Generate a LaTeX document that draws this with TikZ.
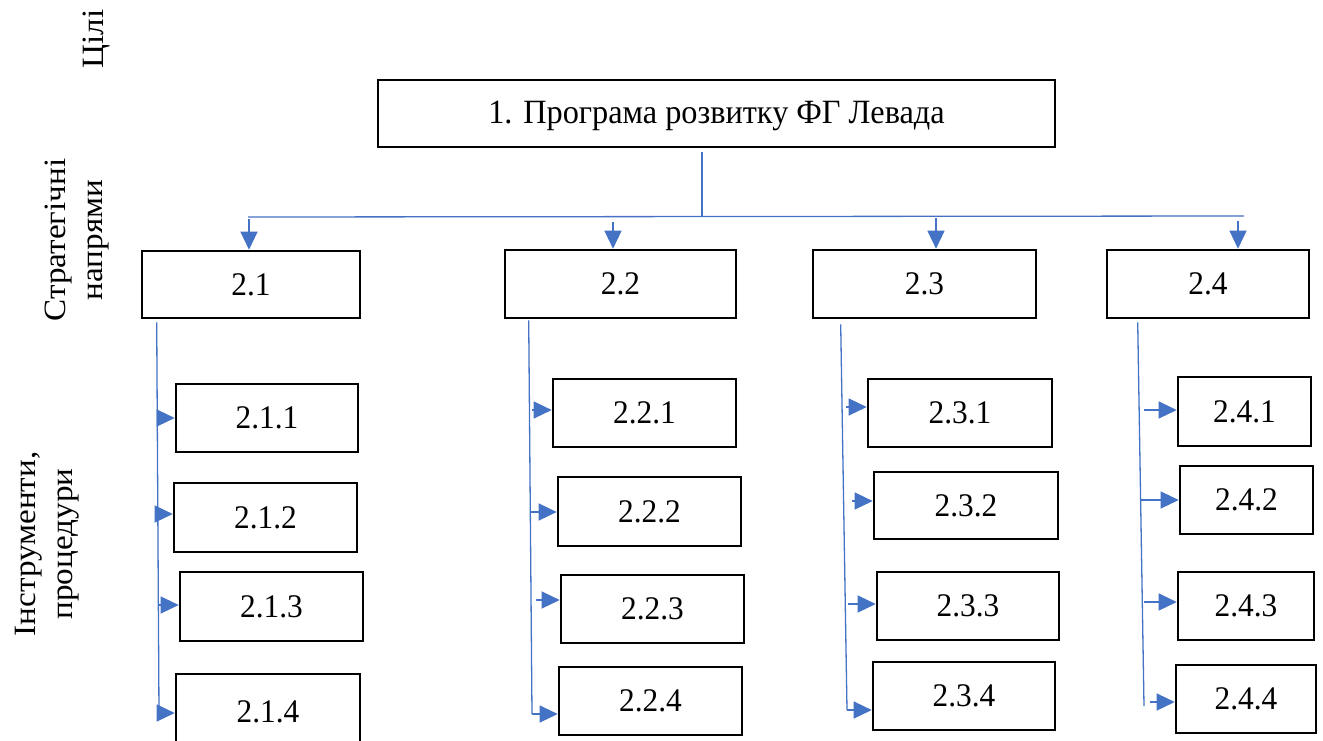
\documentclass[tikz,border=0pt]{standalone}
\usepackage{fontspec}
\setmainfont{Liberation Serif}
\newfontfamily\boxfont[FakeStretch=0.95]{Liberation Serif}
\newfontfamily\sidefont[FakeStretch=1.07]{Liberation Serif}
\usetikzlibrary{arrows.meta}
\definecolor{linkblue}{RGB}{68,114,196}
\tikzset{
  box/.style={draw=black, line width=2.6pt, inner sep=0pt, fill=white,
    font=\boxfont\fontsize{33}{38}\selectfont},
  link/.style={draw=linkblue, line width=1.3pt},
  arr/.style={link, -{Triangle[length=18pt,width=17pt]}},
  side/.style={rotate=90, align=center, inner sep=0pt,
    font=\sidefont\fontsize{31}{37}\selectfont},
}
\begin{document}
\begin{tikzpicture}[x=1pt, y=-1pt]
\clip (0,0) rectangle (1323,740);

% level labels
\node[side] (lgoal) at (97,39) {Цілі};
\node[side] (lstrat) at (77,240) {Стратегічні\\напрями};
\node[side] (ltool) at (47,544) {Інструменти,\\процедури};

% programme
\node[box, minimum width=677pt, minimum height=67pt, text height=27pt,
  font=\boxfont\fontsize{34}{40}\selectfont] (top) at (716.5,113.5) {1. Програма розвитку ФГ Левада};

% strategic directions
\node[box, minimum width=218pt, minimum height=67pt] (b21) at (251,284.5) {2.1};
\node[box, minimum width=231pt, minimum height=68pt] (b22) at (620.5,284) {2.2};
\node[box, minimum width=223pt, minimum height=68pt] (b23) at (924.5,284) {2.3};
\node[box, minimum width=202pt, minimum height=68pt] (b24) at (1208,284) {2.4};

% instruments
\node[box, minimum width=182pt, minimum height=68pt] (b211) at (267,418) {2.1.1};
\node[box, minimum width=183pt, minimum height=69pt] (b212) at (265.5,517.5) {2.1.2};
\node[box, minimum width=183pt, minimum height=69pt] (b213) at (271.5,606.5) {2.1.3};
\node[box, minimum width=184pt, minimum height=76pt] (b214) at (268,712) {2.1.4};

\node[box, minimum width=183pt, minimum height=68pt] (b221) at (644.5,413) {2.2.1};
\node[box, minimum width=183pt, minimum height=69pt] (b222) at (649.5,511.5) {2.2.2};
\node[box, minimum width=183pt, minimum height=68pt] (b223) at (652.5,609) {2.2.3};
\node[box, minimum width=183pt, minimum height=68pt] (b224) at (650.5,701) {2.2.4};

\node[box, minimum width=184pt, minimum height=68pt] (b231) at (960,413) {2.3.1};
\node[box, minimum width=184pt, minimum height=67pt] (b232) at (966,505.5) {2.3.2};
\node[box, minimum width=182pt, minimum height=68pt] (b233) at (968,606) {2.3.3};
\node[box, minimum width=182pt, minimum height=68pt] (b234) at (964,696) {2.3.4};

\node[box, minimum width=133pt, minimum height=69pt] (b241) at (1244.5,411.5) {2.4.1};
\node[box, minimum width=133pt, minimum height=68pt] (b242) at (1246.5,500) {2.4.2};
\node[box, minimum width=136pt, minimum height=68pt] (b243) at (1246,606) {2.4.3};
\node[box, minimum width=140pt, minimum height=68pt] (b244) at (1246,699) {2.4.4};

% distribution bar under the programme
\coordinate (hub) at (702,216.5);
\coordinate (hl) at (248,217);
\coordinate (hr) at (1244,216);
\draw[link] (top.south -| hub) ++(0,4) -- (hub);
\draw[link] (hl) -- (hr);

\coordinate (a21) at (249,219);
\coordinate (a22) at (613,222);
\coordinate (a23) at (936,218);
\coordinate (a24) at (1238,221);
\foreach \a/\b in {a21/b21, a22/b22, a23/b23, a24/b24}
  \draw[arr] (\a) -- (\a |- \b.north);

% column 2.1
\coordinate (s211) at (158,418);
\coordinate (s212) at (159,514);
\coordinate (s213) at (158,605);
\coordinate (s214) at (159,713);
\draw[link] (b21.south west) ++(16,3) -- (s214);
% column 2.2
\coordinate (s221) at (532,410);
\coordinate (s222) at (531,512);
\coordinate (s223) at (536,600);
\coordinate (s224) at (532,714);
\draw[link] (b22.south west) ++(25,1) -- (s224);
% column 2.3
\coordinate (s231) at (846,407);
\coordinate (s232) at (852,501);
\coordinate (s233) at (848,604);
\coordinate (s234) at (847,710);
\draw[link] (b23.south west) ++(29,5) -- (s234);
% column 2.4
\coordinate (s241) at (1144,410);
\coordinate (s242) at (1141,500);
\coordinate (s243) at (1144,602);
\coordinate (s244) at (1150,702);
\draw[link] (b24.south west) ++(32,3) -- (1144,706);

\foreach \s/\b in {s211/b211, s212/b212, s213/b213, s214/b214,
                   s221/b221, s222/b222, s223/b223, s224/b224,
                   s231/b231, s232/b232, s233/b233, s234/b234,
                   s241/b241, s242/b242, s243/b243, s244/b244}
  \draw[arr] (\s) -- (\s -| \b.west);
\end{tikzpicture}
\end{document}
